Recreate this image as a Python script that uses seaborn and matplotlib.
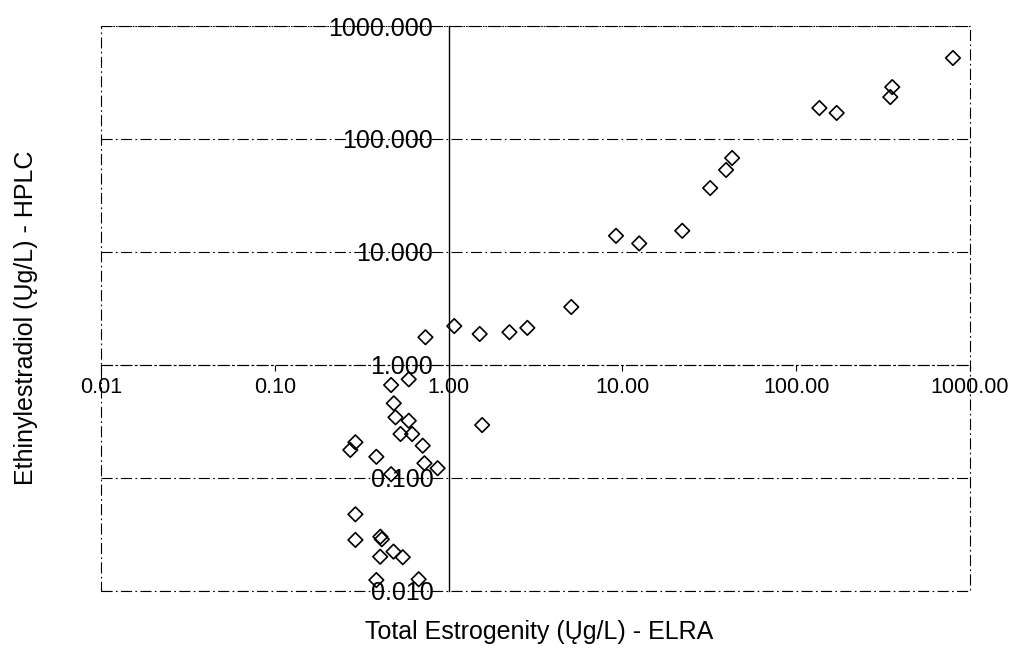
import matplotlib
matplotlib.use("Agg")
import pandas as pd
import matplotlib.pyplot as plt
import seaborn as sns
from matplotlib.patches import Rectangle
from matplotlib.ticker import FixedLocator, FixedFormatter, NullLocator

# values (log-log)
elra = [798, 357, 348, 136, 171, 42.8, 39.5, 32.0, 22.1, 9.19, 12.5, 5.08,
        2.84, 2.24, 1.51, 1.078, 0.736, 0.590, 0.467, 0.484, 0.495, 0.590,
        0.529, 0.617, 0.710, 1.56, 0.291, 0.272, 0.384, 0.726, 0.865, 0.467,
        0.291, 0.291, 0.413, 0.405, 0.404, 0.482, 0.545, 0.384, 0.673]
hplc = [521, 288, 235, 188, 170, 67.9, 53.2, 36.8, 15.4, 13.9, 11.9, 3.26,
        2.13, 1.95, 1.88, 2.21, 1.76, 0.747, 0.665, 0.458, 0.344, 0.321,
        0.245, 0.245, 0.193, 0.294, 0.207, 0.177, 0.154, 0.135, 0.122, 0.108,
        0.0477, 0.0283, 0.0287, 0.0302, 0.0201, 0.0223, 0.0199, 0.0125, 0.0127]

x_ticks = [0.01, 0.1, 1, 10, 100, 1000]
x_tick_labels = ["0.01", "0.10", "1.00", "10.00", "100.00", "1000.00"]
y_ticks = [0.01, 0.1, 1, 10, 100, 1000]
y_tick_labels = ["0.010", "0.100", "1.000", "10.000", "100.000", "1000.000"]

df = pd.DataFrame({"elra": elra, "hplc": hplc})

sns.set_style("white")
plt.rcParams['font.family'] = ['Liberation Sans', 'DejaVu Sans']
plt.rcParams['text.color'] = "black"
plt.rcParams['axes.labelcolor'] = "black"

fig = plt.figure(figsize=(10.19, 6.5), dpi=100)
ax = fig.add_axes([0.0991, 0.0908, 0.8528, 0.8692])

ax.set_xscale("log")
ax.set_yscale("log")

sns.scatterplot(data=df, x="elra", y="hplc", marker="D", s=55,
                facecolor="none", edgecolor="black", linewidth=1.2,
                ax=ax, zorder=3)

ax.set_xlim(0.01, 1000)
ax.set_ylim(0.01, 1000)

ax.xaxis.set_major_locator(FixedLocator(x_ticks))
ax.xaxis.set_major_formatter(FixedFormatter(x_tick_labels))
ax.yaxis.set_major_locator(FixedLocator(y_ticks))
ax.yaxis.set_major_formatter(FixedFormatter(y_tick_labels))
ax.xaxis.set_minor_locator(NullLocator())
ax.yaxis.set_minor_locator(NullLocator())

# axes cross at (1, 1)
dashdot = (0, (10, 3, 1.5, 3))
ax.spines['left'].set_position(('data', 1))
ax.spines['bottom'].set_position(('data', 1))
ax.spines['left'].set_linewidth(1.0)
ax.spines['left'].set_color("black")
ax.spines['bottom'].set_linestyle(dashdot)
ax.spines['bottom'].set_linewidth(0.8)
ax.spines['bottom'].set_color("black")
ax.spines['top'].set_visible(False)
ax.spines['right'].set_visible(False)

# dash-dot frame and horizontal grid
ax.add_patch(Rectangle((0, 0), 1, 1, transform=ax.transAxes, fill=False,
                       ls=dashdot, lw=0.8, ec="black", clip_on=False))
ax.yaxis.grid(True, ls=dashdot, lw=0.8, color="black")
ax.xaxis.grid(False)

ax.tick_params(axis="x", direction="out", length=4, width=0.8, pad=5,
               labelsize=15.5, colors="black", bottom=True)
ax.tick_params(axis="y", length=0, pad=11, labelsize=18, colors="black", left=True)

ax.set_xlabel("Total Estrogenity (Ųg/L) - ELRA", fontsize=18, color="black")
ax.set_ylabel("Ethinylestradiol (Ųg/L) - HPLC", fontsize=18, color="black")
ax.xaxis.set_label_coords(0.504, -0.051)
ax.yaxis.set_label_coords(-0.072, 0.483)

fig.savefig("out.png", dpi=100)
